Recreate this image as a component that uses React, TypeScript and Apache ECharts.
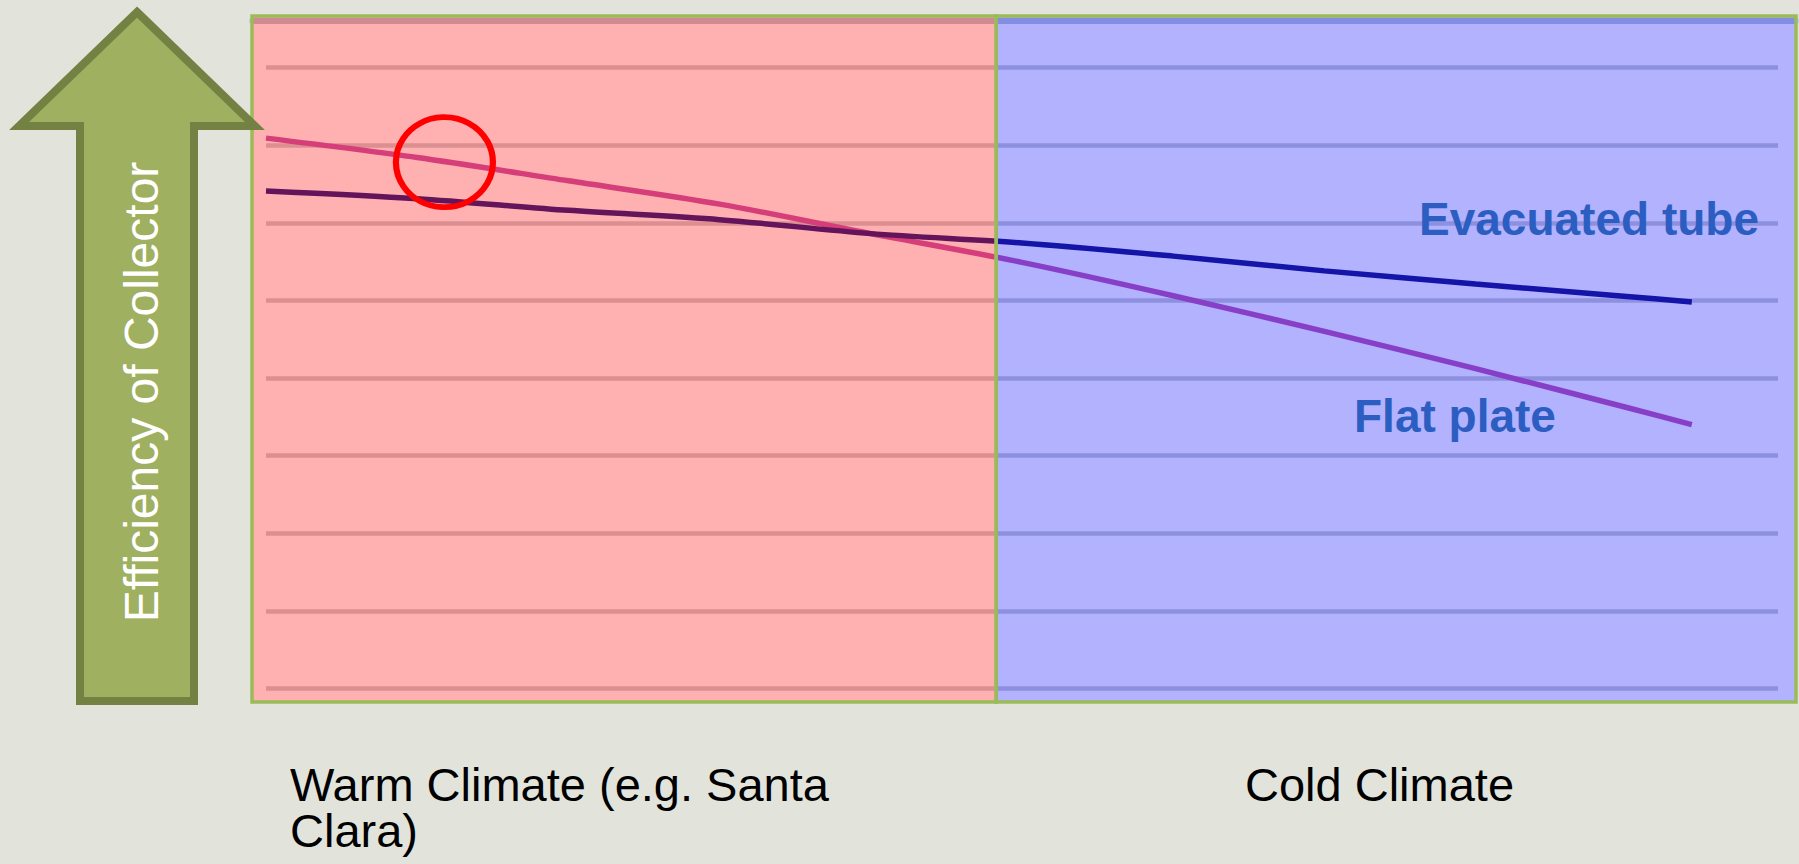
import React, { useEffect, useRef } from "react";
import * as echarts from "echarts";

// x positions (arbitrary operating-temperature scale, 0..100) of the read points
const xValues = [0, 10, 20, 30, 40, 50, 60, 70, 80, 90, 94.3];
// collector efficiency (gridline units 0..80)
const flatPlate = [70.9, 68.4, 65.4, 62.4, 58.6, 54.9, 50.6, 46.0, 41.2, 36.2, 34.0];
const evacuatedTube = [64.1, 63.1, 61.6, 60.4, 58.6, 57.4, 55.7, 53.8, 52.1, 50.5, 49.8];

// climate zones along the frame's 0..100 scale
const zoneNames = ["Warm Climate (e.g. Santa\nClara)", "Cold Climate"];
const zoneStart = [0, 48.2];
const zoneEnd = [48.2, 100];

// highlighted point (red circle annotation)
const highlight = [[11.8, 67.8]];

const seriesNames = ["Flat plate", "Evacuated tube"];
const axisTitle = "Efficiency of Collector";

export default function App() {
  const ref = useRef<HTMLDivElement>(null);

  useEffect(() => {
    document.body.style.margin = "0";
    document.body.style.background = "#E2E4DC";
    const chart = echarts.init(ref.current!, null, { renderer: "svg" });
    const zoneFills = ["rgba(255,0,0,0.31)", "rgba(0,0,255,0.30)"];
    const font = '"Liberation Sans", Arial, sans-serif';

    chart.setOption({
      animation: false,
      backgroundColor: "#E2E4DC",
      grid: [
        { left: 252, top: 16, width: 1544, height: 686, show: true, backgroundColor: "#ffffff", borderWidth: 0 },
        { left: 266, top: 67.5, width: 1512, height: 621, show: false },
      ],
      xAxis: [
        {
          gridIndex: 0, type: "value", min: 0, max: 100, position: "top", offset: -5,
          axisLine: { show: true, onZero: false, lineStyle: { color: "#BCCAD4", width: 6 } },
          axisTick: { show: false }, axisLabel: { show: false }, splitLine: { show: false },
        },
        {
          gridIndex: 1, type: "value", min: 0, max: 100,
          axisLine: { show: false }, axisTick: { show: false }, axisLabel: { show: false }, splitLine: { show: false },
        },
      ],
      yAxis: [
        {
          gridIndex: 0, type: "value", min: 0, max: 1,
          axisLine: { show: false }, axisTick: { show: false }, axisLabel: { show: false }, splitLine: { show: false },
        },
        {
          gridIndex: 1, type: "value", min: 0, max: 80, interval: 10,
          axisLine: { show: false }, axisTick: { show: false }, axisLabel: { show: false },
          splitLine: { show: true, lineStyle: { color: "#CBCFD2", width: 4.5 } },
        },
      ],
      series: [
        {
          name: seriesNames[0], type: "line", xAxisIndex: 1, yAxisIndex: 1, z: 3, smooth: 0.3,
          symbol: "none", lineStyle: { color: "#C35BAF", width: 5.5 },
          data: xValues.map((x, i) => [x, flatPlate[i]]),
        },
        {
          name: seriesNames[1], type: "line", xAxisIndex: 1, yAxisIndex: 1, z: 3, smooth: 0.3,
          symbol: "none", lineStyle: { color: "#1D1D85", width: 5.5 },
          data: xValues.map((x, i) => [x, evacuatedTube[i]]),
        },
        {
          name: "zones", type: "custom", xAxisIndex: 0, yAxisIndex: 0, z: 10, silent: true,
          data: zoneStart.map((s, i) => [s, zoneEnd[i]]),
          encode: { x: [0, 1] },
          renderItem: (params: any, api: any) => {
            const p0 = api.coord([api.value(0), 1]);
            const p1 = api.coord([api.value(1), 0]);
            return {
              type: "rect",
              shape: { x: p0[0], y: p0[1], width: p1[0] - p0[0], height: p1[1] - p0[1] },
              style: { fill: zoneFills[params.dataIndex], stroke: "#9BBB59", lineWidth: 3.5 },
            };
          },
        },
        {
          name: "highlight", type: "scatter", xAxisIndex: 1, yAxisIndex: 1, z: 20, silent: true,
          symbol: "circle", symbolSize: [97, 90],
          itemStyle: { color: "rgba(0,0,0,0)", borderColor: "#FF0000", borderWidth: 6, opacity: 1 },
          data: highlight,
        },
      ],
      graphic: [
        {
          type: "polygon", z: 50,
          shape: { points: [[137, 12], [255, 126], [194, 126], [194, 701], [80, 701], [80, 126], [19, 126]] },
          style: { fill: "#9FB060", stroke: "#738243", lineWidth: 8 },
        },
        {
          type: "text", z: 60, x: 141, y: 392, rotation: Math.PI / 2,
          style: { text: axisTitle, fill: "#ffffff", fontSize: 48, fontFamily: font, align: "center", verticalAlign: "middle" },
        },
        {
          type: "text", z: 60, x: 1419, y: 219,
          style: { text: seriesNames[1], fill: "#2C5EC2", fontSize: 46, fontWeight: "bold", fontFamily: font, align: "left", verticalAlign: "middle" },
        },
        {
          type: "text", z: 60, x: 1354, y: 416,
          style: { text: seriesNames[0], fill: "#2C5EC2", fontSize: 46, fontWeight: "bold", fontFamily: font, align: "left", verticalAlign: "middle" },
        },
        {
          type: "text", z: 60, x: 290, y: 761,
          style: { text: zoneNames[0], fill: "#000000", fontSize: 47, lineHeight: 46, fontFamily: font, align: "left", verticalAlign: "top" },
        },
        {
          type: "text", z: 60, x: 1245, y: 784,
          style: { text: zoneNames[1], fill: "#000000", fontSize: 47, fontFamily: font, align: "left", verticalAlign: "middle" },
        },
      ],
    });

    return () => chart.dispose();
  }, []);

  return <div ref={ref} style={{ position: "absolute", left: 0, top: 0, width: 1799, height: 864 }} />;
}
